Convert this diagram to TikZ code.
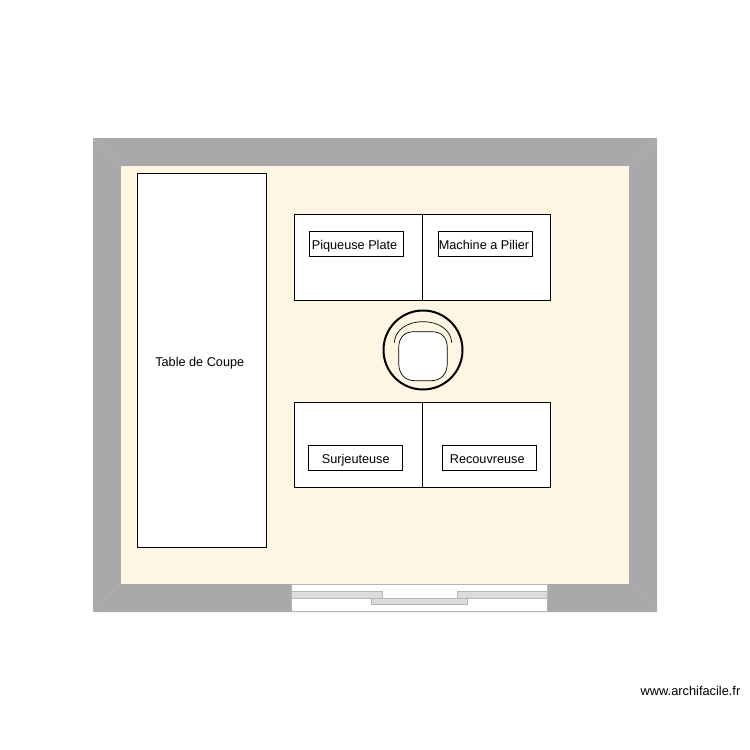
\documentclass[tikz,border=0pt]{standalone}
\usepackage{fontspec}
\setmainfont{Liberation Sans}
\definecolor{wallgray}{HTML}{A9A9A9}
\definecolor{floorcream}{HTML}{FDF6E3}
\definecolor{panelgray}{HTML}{DCDCDC}
\definecolor{panelline}{HTML}{B4B4B4}
\definecolor{seam}{HTML}{B6B6B6}
\tikzset{
  furniture/.style={draw=black,fill=white,line width=0.8pt,inner sep=0pt,outer sep=0pt},
  tag/.style={furniture,font=\fontsize{12.7pt}{14pt}\selectfont,minimum width=94pt,minimum height=25pt,text=black,text height=10pt,text depth=0pt},
  panel/.style={draw=panelline,fill=panelgray,line width=0.8pt},
  seamline/.style={draw=seam,line width=0.4pt}
}
\begin{document}
\begin{tikzpicture}[x=1pt,y=-1pt]
\useasboundingbox (0,0) rectangle (750,750);
\fill[white] (0,0) rectangle (750,750);
% walls and floor
\fill[wallgray,rounded corners=0.8pt] (93,138) rectangle (657,612);
\fill[floorcream] (121,166) rectangle (629,583.5);
\draw[seamline] (93,138) -- (121,166);
\draw[seamline] (657,138) -- (629,166);
\draw[seamline] (93,612) -- (121,583.5);
\draw[seamline] (657,612) -- (629,583.5);
% window
\fill[white] (291.5,584.5) rectangle (547.5,611);
\draw[panelline,line width=0.8pt] (291.5,584.5) -- (547.5,584.5) (291.5,611) -- (547.5,611)
  (291.5,584.5) -- (291.5,611) (547.5,584.5) -- (547.5,611);
\draw[panel] (291.5,591.5) rectangle (382,598);
\draw[panel] (457,591.5) rectangle (547.5,598);
\draw[panel] (371,598) rectangle (467.5,604.5);
% table
\node[furniture,minimum width=128.5pt,minimum height=374pt,font=\fontsize{12.7pt}{14pt}\selectfont,text height=11pt,text depth=0pt] (table) at (201.75,360.5) {\hspace*{-4pt}Table de Coupe};
% machines
\node[furniture,minimum width=128.5pt,minimum height=85.5pt] (m1) at (358.25,257.25) {};
\node[furniture,minimum width=128pt,minimum height=85.5pt] (m2) at (486.5,257.25) {};
\node[furniture,minimum width=128.5pt,minimum height=85.5pt] (m3) at (358.25,444.75) {};
\node[furniture,minimum width=128pt,minimum height=85.5pt] (m4) at (486.5,444.75) {};
\node[tag] (t1) at (356.5,244) {\hspace*{-4pt}Piqueuse Plate};
\node[tag] (t2) at (485.5,244) {\hspace*{-3pt}Machine a Pilier};
\node[tag,text height=12pt] (t3) at (355.75,457.5) {Surjeuteuse};
\node[tag,text height=12pt] (t4) at (489.75,457.5) {\hspace*{-5pt}Recouvreuse};
% chair
\draw[black,line width=2pt] (423,350) circle (39.5);
\draw[black,fill=white,line width=0.7pt] (398.7,348)
  .. controls (398.7,337) and (405,331.7) .. (414,331.7)
  -- (432,331.7)
  .. controls (441,331.7) and (447.3,337) .. (447.3,348)
  -- (447.3,363)
  .. controls (447.3,374) and (441,380.7) .. (431,380.7)
  -- (415,380.7)
  .. controls (405,380.7) and (398.7,374) .. (398.7,363) -- cycle;
\draw[black,line width=0.7pt] (394.3,342.7)
  .. controls (395,330) and (407,321.7) .. (423,321.7)
  .. controls (439,321.7) and (451,330) .. (451.7,342.7);
% credit
\node[font=\fontsize{12.8pt}{14pt}\selectfont,text=black,anchor=base east,inner sep=0pt] (credit) at (740.5,695) {www.archifacile.fr};
\end{tikzpicture}
\end{document}
